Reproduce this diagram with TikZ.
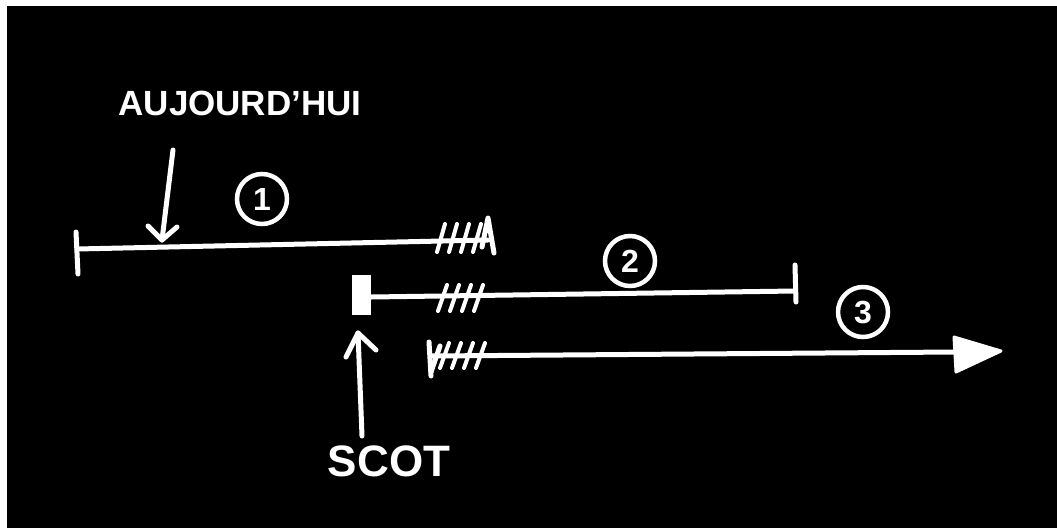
\documentclass[tikz,border=0pt]{standalone}
\usepackage{fontspec}
\setmainfont{Liberation Sans}
\begin{document}
\begin{tikzpicture}[x=1pt,y=-1pt,
  chalk/.style={draw=white, line width=5pt, line cap=round, line join=round},
  hatch/.style={draw=white, line width=4pt, line cap=round},
  num/.style={circle, draw=white, line width=4.5pt, minimum size=50pt, inner sep=0pt, text=white, font=\fontsize{32}{32}\selectfont\bfseries},
  handtext/.style={text=white, inner sep=0pt}]
\useasboundingbox (0,0) rectangle (1057,528);
\fill[white] (0,0) rectangle (1057,528);
\fill[black] (7,6) rectangle (1057,528);

% labels
\node[handtext, font=\fontsize{35}{35}\selectfont\bfseries] (auj) at (240,103) {AUJOURD'HUI};
\node[handtext, font=\fontsize{44}{44}\selectfont\bfseries] (scot) at (389,461) {SCOT};

% circled numbers
\node[num] (n1) at (262,199) {1};
\node[num] (n2) at (630,261) {2};
\node[num] (n3) at (863,312) {3};

% line 1
\coordinate (l1s) at (77,249);
\coordinate (l1e) at (488,240);
\draw[chalk] (l1s) -- (l1e);
\draw[chalk] (76,232) -- (78,274);
\foreach \x in {437,449,461,473} \draw[hatch] (\x,252) -- (\x+8,224);
\draw[chalk] (482,247) -- (488,218) -- (494,253);

% arrow "aujourd'hui"
\coordinate (a1s) at (173,150);
\coordinate (a1t) at (162,240);
\draw[chalk] (a1s) -- (a1t);
\draw[chalk] (148,226) -- (a1t) -- (177,227);

% line 2
\fill[white] (352,275) rectangle (371,315);
\coordinate (l2s) at (371,297);
\coordinate (l2e) at (795,291);
\draw[chalk] (l2s) -- (l2e);
\draw[chalk] (795,265) -- (796,302);
\foreach \x in {438,450,462,474} \draw[hatch] (\x,311) -- (\x+9,285);

% arrow scot
\coordinate (a2s) at (362,436);
\coordinate (a2t) at (358,333);
\draw[chalk] (a2s) -- (a2t);
\draw[chalk] (346,357) -- (a2t) -- (376,350);

% line 3
\coordinate (l3s) at (431,356);
\coordinate (l3e) at (955,352);
\draw[chalk] (l3s) -- (l3e);
\draw[chalk] (429,342) -- (431,376);
\draw[chalk] (431,372) -- (440,346);
\foreach \x in {440,452,464,476} \draw[hatch] (\x,368) -- (\x+9,343);
\filldraw[white, line width=3pt, line join=round] (954,337) -- (1001,351) -- (956,372) -- cycle;
\end{tikzpicture}
\end{document}
